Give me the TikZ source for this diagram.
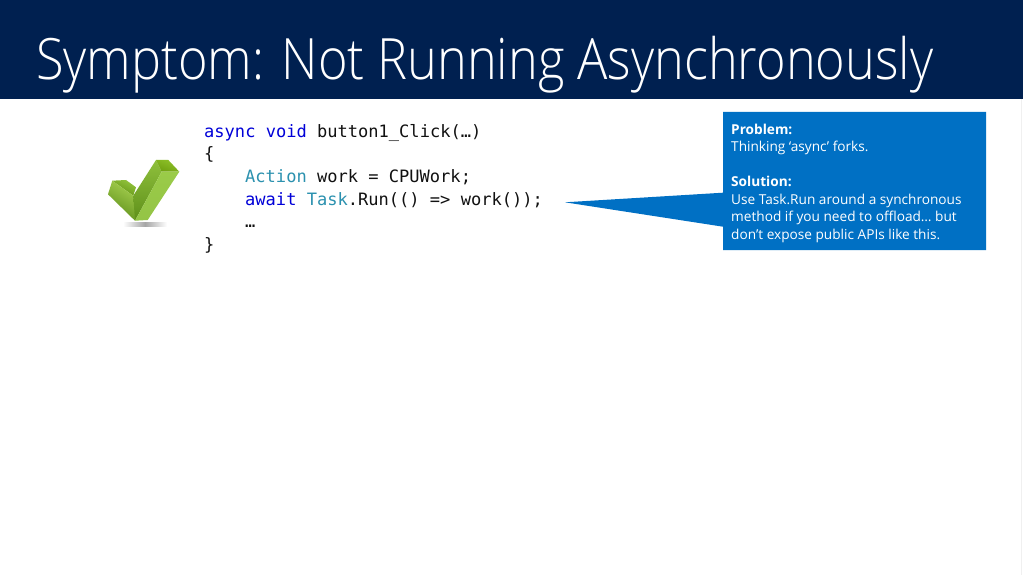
\documentclass[tikz,border=0pt]{standalone}
\usepackage{fontspec}
\setmainfont{Open Sans}
\newfontfamily\titlefont{Open Sans Light}
\setmonofont{DejaVu Sans Mono}
\definecolor{barblue}{HTML}{002050}
\definecolor{callblue}{HTML}{0070C4}
\definecolor{kwblue}{HTML}{0000D8}
\definecolor{typeteal}{HTML}{2B91AF}
\definecolor{codeblack}{HTML}{111111}
\definecolor{edgegrey}{HTML}{F0F0F0}
\definecolor{armlight}{HTML}{A6D050}
\definecolor{armmid}{HTML}{5E8F1A}
\definecolor{armupper}{HTML}{8FC03C}
\definecolor{armtopa}{HTML}{93C43E}
\definecolor{armtopb}{HTML}{5F9010}
\definecolor{capa}{HTML}{8FC22A}
\definecolor{capb}{HTML}{6FA010}
\definecolor{sidea}{HTML}{9ACB48}
\definecolor{sideb}{HTML}{94C446}
\tikzset{
  titletext/.style={anchor=base west,inner sep=0pt,text=white,font=\titlefont\fontsize{57}{57}\selectfont},
  codeline/.style={anchor=base west,inner sep=0pt,text=codeblack,font=\ttfamily\fontsize{17.05}{20}\selectfont},
  calltext/.style={anchor=base west,inner sep=0pt,text=white,font=\fontsize{13.65}{16}\selectfont},
  callhead/.style={calltext,font=\bfseries\fontsize{13.65}{16}\selectfont},
}
\newcommand{\kw}[1]{\textcolor{kwblue}{#1}}
\newcommand{\ty}[1]{\textcolor{typeteal}{#1}}
\begin{document}
\begin{tikzpicture}[x=1pt,y=-1pt]
\useasboundingbox (0,0) rectangle (1023,575);
\fill[white] (0,0) rectangle (1023,575);
\fill[edgegrey] (1021,99) rectangle (1022,575);
\fill[barblue] (0,0) rectangle (1023,99.5);
\node[titletext] (title) at (36,80) {\resizebox{897pt}{\height}{Symptom: Not Running Asynchronously}};
% code
\node[codeline] (c1) at (204,137.7) {\kw{async} \kw{void} button1\_Click(…)};
\node[codeline] (c2) at (204,160) {\{};
\node[codeline] (c3) at (245,182.7) {\ty{Action} work = CPUWork;};
\node[codeline] (c4) at (245,205) {\kw{await} \ty{Task}.Run(() => work());};
\node[codeline] (c5) at (245,227.7) {…};
\node[codeline] (c6) at (204,250.3) {\}};
% callout
\fill[callblue] (723,112) -- (986,112) -- (986,250) -- (723,250) -- (723,226.7) -- (565,202.3) -- (723,192.7) -- cycle;
\node[callhead] (p1) at (731,134.3) {Problem:};
\node[calltext] (p2) at (731,151.7) {Thinking ‘async’ forks.};
\node[callhead] (s1) at (731,186.7) {Solution:};
\node[calltext] (s2) at (731,204.3) {Use Task.Run around a synchronous};
\node[calltext] (s3) at (731,221.7) {method if you need to offload… but};
\node[calltext] (s4) at (731,239.3) {don’t expose public APIs like this.};
% check mark
\shade[left color=white,right color=white,middle color=gray!70] (123,222.5) rectangle (167,226.5);
\shade[shading=axis,left color=armtopa,right color=armtopb,shading angle=-25] (112.3,180.7) -- (126,180) -- (136,187.3) -- (133.3,195.7) -- cycle;
\shade[shading=axis,left color=armlight,right color=armmid,shading angle=-30] (112.3,180.7) -- (133.3,195.7) -- (137,205) -- (135,220.7) -- (108,194.3) -- cycle;
\shade[top color=armupper,bottom color=armmid] (133.3,195.7) -- (156,160) -- (161.7,171.7) -- (135,220.7) -- cycle;
\shade[shading=axis,left color=capa,right color=capb,shading angle=-20] (156,160) -- (168.3,160) -- (179.3,171.7) -- (161.7,171.7) -- cycle;
\shade[top color=sidea,bottom color=sideb] (161.7,171.7) -- (179.3,171.7) -- (147.7,220) -- (135,220.7) -- cycle;
\end{tikzpicture}
\end{document}
